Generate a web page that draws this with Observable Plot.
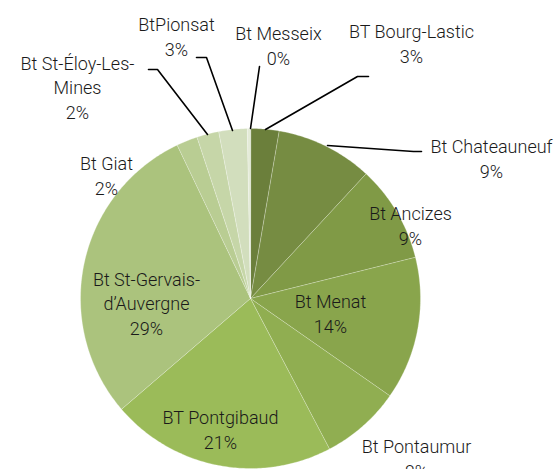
<!DOCTYPE html>
<html>
<head>
<meta charset="utf-8">
<script src="https://cdn.jsdelivr.net/npm/d3@7"></script>
<script src="https://cdn.jsdelivr.net/npm/@observablehq/plot@0.6"></script>
<style>
  html, body { margin: 0; padding: 0; background: #fff; }
  #chart svg { display: block; }
</style>
</head>
<body>
<div id="chart"></div>
<script>
// ---- data ----
const names = ["BT Bourg-Lastic", "Bt Chateauneuf", "Bt Ancizes", "Bt Menat", "Bt Pontaumur",
  "BT Pontgibaud", "Bt St-Gervais-d’Auvergne", "Bt Giat", "Bt St-Éloy-Les-Mines", "BtPionsat", "Bt Messeix"];
const shares = [2.7, 9.2, 9.2, 13.6, 7.6, 21.4, 29.2, 2.0, 2.1, 2.7, 0.3];
const pctLabels = ["3%", "9%", "9%", "14%", "8%", "21%", "29%", "2%", "2%", "3%", "0%"];
const labelText = ["BT Bourg-Lastic", "Bt Chateauneuf", "Bt Ancizes", "Bt Menat", "Bt Pontaumur",
  "BT Pontgibaud", "Bt St-Gervais-\nd’Auvergne", "Bt Giat", "Bt St-Éloy-Les-\nMines", "BtPionsat", "Bt Messeix"];
const colors = ["#6b7f3b", "#768c42", "#809a46", "#89a54c", "#90ae51", "#9bbb59",
  "#abc37d", "#b9cd93", "#c6d6a8", "#d2debd", "#e4ebd8"];

// ---- layout (not data) ----
const W = 558, H = 469, CX = 250, CY = 298, R = 170;
const labelPos = [[411, 42], [491, 157], [410, 224], [330, 312], [416, 457],
  [220, 428], [146, 302], [106, 174], [77, 86], [176, 35], [278, 44]];
const leaders = [
  {i: 0, pts: [[368, 76], [357, 76], [265, 129]]},
  {i: 1, pts: [[421, 151], [413, 151], [327, 145]]},
  {i: 8, pts: [[148, 69], [157, 69], [207, 134]]},
  {i: 9, pts: [[196, 57], [206, 57], [232, 130]]},
  {i: 10, pts: [[259, 66], [250, 128]]}
];

const pie = d3.pie().sort(null).value(d => d)(shares);
const wedges = [];
pie.forEach((p, i) => {
  const n = Math.max(4, Math.ceil((p.endAngle - p.startAngle) * 80));
  wedges.push({i, x: CX, y: CY});
  for (let k = 0; k <= n; k++) {
    const a = p.startAngle + (p.endAngle - p.startAngle) * k / n;
    wedges.push({i, x: CX + R * Math.sin(a), y: CY - R * Math.cos(a)});
  }
});

const marks = [];
names.forEach((nm, i) => {
  marks.push(Plot.line(wedges.filter(d => d.i === i), {
    x: "x", y: "y", curve: "linear-closed", fill: colors[i],
    stroke: "#ffffff", strokeOpacity: 0.35, strokeWidth: 0.8
  }));
});
const leaderData = leaders.flatMap(l => l.pts.map(([x, y]) => ({i: l.i, x, y})));
marks.push(Plot.line(leaderData, {x: "x", y: "y", z: "i", stroke: "#000", strokeWidth: 1.6}));
const labels = names.map((nm, i) => ({text: labelText[i] + "\n" + pctLabels[i], x: labelPos[i][0], y: labelPos[i][1]}));
marks.push(Plot.text(labels, {
  x: "x", y: "y", text: "text", fill: "#1a1a1a", fontSize: 18, lineHeight: 1.38,
  fontFamily: "Roboto, sans-serif", fontWeight: 300, textAnchor: "middle"
}));

const chart = Plot.plot({
  width: W, height: H,
  margin: 0,
  x: {domain: [0, W], range: [0, W], axis: null},
  y: {domain: [0, H], range: [0, H], axis: null},
  marks
});
document.getElementById("chart").appendChild(chart);
</script>
</body>
</html>
